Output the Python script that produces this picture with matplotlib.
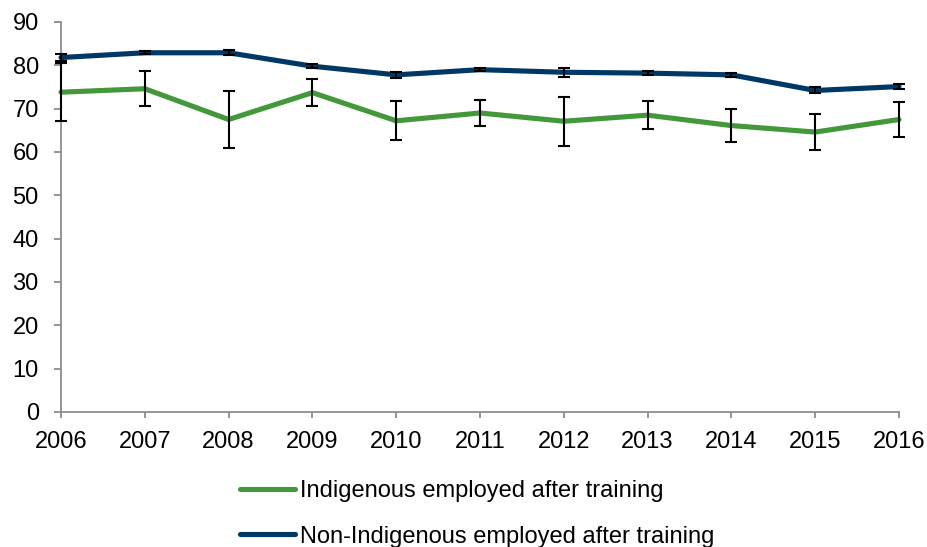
import matplotlib
matplotlib.use("Agg")
import matplotlib.pyplot as plt

years = [2006, 2007, 2008, 2009, 2010, 2011, 2012, 2013, 2014, 2015, 2016]
indigenous = [73.8, 74.6, 67.5, 73.7, 67.2, 69.0, 67.1, 68.5, 66.1, 64.6, 67.5]
indigenous_err = [6.7, 4.0, 6.6, 3.2, 4.5, 2.9, 5.6, 3.3, 3.85, 4.2, 4.0]
non_indigenous = [81.8, 82.9, 82.9, 79.8, 77.8, 79.0, 78.4, 78.2, 77.8, 74.2, 75.1]
non_indigenous_err = [0.8, 0.4, 0.6, 0.4, 0.7, 0.4, 1.0, 0.5, 0.4, 0.7, 0.5]
yticks = [0, 10, 20, 30, 40, 50, 60, 70, 80, 90]

plt.rcParams['font.family'] = ['Liberation Sans', 'DejaVu Sans']

fig = plt.figure(figsize=(9.27, 5.47), dpi=100)
ax = fig.add_axes([61/927, 1 - 412/547, (899-61)/927, (412-22)/547])

green = '#43983A'
navy = '#003865'

ax.plot(years, indigenous, color=green, lw=3.7, solid_capstyle='round',
        label='Indigenous employed after training', zorder=3, clip_on=False)
ax.plot(years, non_indigenous, color=navy, lw=3.7, solid_capstyle='round',
        label='Non-Indigenous employed after training', zorder=3, clip_on=False)
eb1 = ax.errorbar(years, indigenous, yerr=indigenous_err, fmt='none', ecolor='black',
                  elinewidth=1.5, capsize=4, capthick=1.5, zorder=4)
eb2 = ax.errorbar(years, non_indigenous, yerr=non_indigenous_err, fmt='none', ecolor='black',
                  elinewidth=1.5, capsize=4, capthick=1.5, zorder=4)
for eb in (eb1, eb2):
    for art in eb.lines[1] + eb.lines[2]:
        art.set_clip_on(False)

ax.set_xlim(2006, 2016)
ax.set_ylim(0, 90)
ax.set_xticks(years)
ax.set_xticklabels([str(y) for y in years])
ax.set_yticks(yticks)

for s in ['top', 'right']:
    ax.spines[s].set_visible(False)
for s in ['left', 'bottom']:
    ax.spines[s].set_color('#8c8c8c')
    ax.spines[s].set_linewidth(1.3)
ax.tick_params(axis='both', colors='#8c8c8c', width=1.3, labelsize=17,
               labelcolor='black', direction='out')
ax.tick_params(axis='y', length=5, pad=11)
ax.tick_params(axis='x', length=4.5, pad=9)

leg = fig.legend(loc='upper left', bbox_to_anchor=(240/927, 1 - 480/547), frameon=False,
                 fontsize=17, handlelength=2.35, handletextpad=0.2, labelspacing=1.0,
                 borderaxespad=0, borderpad=0)

fig.savefig('out.png', dpi=100)
